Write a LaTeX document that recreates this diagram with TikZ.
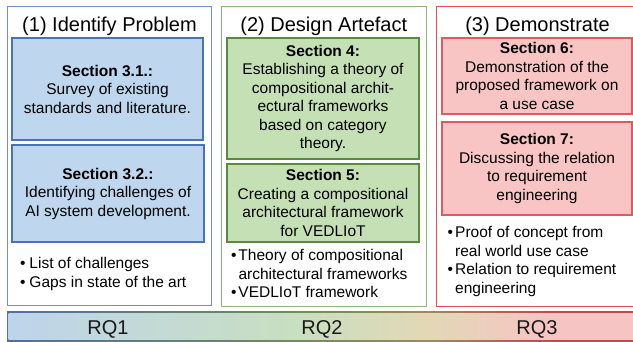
\documentclass[tikz,border=0pt]{standalone}
\usepackage{fontspec}
\setmainfont{Liberation Sans}
\definecolor{blueFill}{HTML}{BED6EE}
\definecolor{blueLine}{HTML}{4A72B8}
\definecolor{blueOuter}{HTML}{6F90CC}
\definecolor{greenFill}{HTML}{C6E0B5}
\definecolor{greenLine}{HTML}{5B8A3E}
\definecolor{greenOuter}{HTML}{8DB87A}
\definecolor{redFill}{HTML}{F8C4C4}
\definecolor{redLine}{HTML}{DF5A5A}
\definecolor{redOuter}{HTML}{E05050}
\definecolor{bfA}{HTML}{BED4EB}
\definecolor{bfB}{HTML}{C9DFC0}
\definecolor{bfC}{HTML}{E2D8B6}
\definecolor{bfD}{HTML}{F7C4C4}
\definecolor{blA}{HTML}{4A6FAE}
\definecolor{blB}{HTML}{6B9150}
\definecolor{blC}{HTML}{A08A50}
\definecolor{blD}{HTML}{C84848}
\pgfdeclarehorizontalshading{barfill}{100bp}{color(0bp)=(bfA); color(25bp)=(bfA); color(48bp)=(bfB); color(58bp)=(bfC); color(68bp)=(bfD); color(100bp)=(bfD)}
\pgfdeclarehorizontalshading{barline}{100bp}{color(0bp)=(blA); color(25bp)=(blA); color(48bp)=(blB); color(58bp)=(blC); color(68bp)=(blD); color(100bp)=(blD)}
\newcommand\bul[1]{\makebox[#1][l]{•}}
\tikzset{
  colbox/.style={draw, line width=1pt, fill=white, inner sep=0pt},
  secbox/.style={draw, line width=1.3pt, inner sep=0pt, align=center,
    font=\fontsize{15.5}{18.5}\selectfont},
  titletext/.style={font=\fontsize{20}{24}\selectfont, inner sep=0pt, anchor=base},
  bullettext/.style={font=\fontsize{15.5}{18.5}\selectfont, inner sep=0pt, align=left, anchor=north west},
  rqtext/.style={font=\fontsize{20}{24}\selectfont, inner sep=0pt, anchor=base, text=black!90}
}
\begin{document}
\begin{tikzpicture}[x=1pt,y=-1pt]
\useasboundingbox (0,0) rectangle (633,342);
% columns
\node[colbox, draw=blueOuter, minimum width=204pt, minimum height=299pt] (col1) at (109,156.5) {};
\node[colbox, draw=greenOuter, minimum width=205pt, minimum height=300pt] (col2) at (323.5,157) {};
\node[colbox, draw=redOuter, minimum width=203pt, minimum height=300pt] (col3) at (537.5,157) {};
% titles
\node[titletext] (t1) at (109.5,32) {(1) Identify Problem};
\node[titletext] (t2) at (323.8,32) {(2) Design Artefact};
\node[titletext] (t3) at (537.5,32) {(3) Demonstrate};
% section boxes
\node[secbox, draw=blueLine, fill=blueFill, minimum width=191pt, minimum height=102pt] (s31) at (107.5,89)
  {\textbf{Section 3.1.:}\\Survey of existing\\standards and literature.};
\node[secbox, draw=blueLine, fill=blueFill, minimum width=192pt, minimum height=97pt] (s32) at (108,193.5)
  {\textbf{Section 3.2.:}\\Identifying challenges of\\AI system development.};
\node[secbox, draw=greenLine, fill=greenFill, minimum width=192pt, minimum height=121pt] (s4) at (323,98.5)
  {\textbf{Section 4:}\\Establishing a theory of\\compositional archit-\\ectural frameworks\\based on category\\theory.};
\node[secbox, draw=greenLine, fill=greenFill, minimum width=192pt, minimum height=78pt] (s5) at (323,203)
  {\textbf{Section 5:}\\Creating a compositional\\architectural framework\\for VEDLIoT};
\node[secbox, draw=redLine, fill=redFill, minimum width=190pt, minimum height=76pt] (s6) at (537,76)
  {\textbf{Section 6:}\\Demonstration of the\\proposed framework on\\a use case};
\node[secbox, draw=redLine, fill=redFill, minimum width=190pt, minimum height=93pt] (s7) at (537,168.5)
  {\textbf{Section 7:}\\Discussing the relation\\to requirement\\engineering};
% bullet lists
\node[bullettext] (b1) at (20,257.5)
  {\bul{9.3pt}List of challenges\\\bul{9.3pt}Gaps in state of the art};
\node[bullettext] (b2) at (231,249.5)
  {\bul{7.3pt}Theory of compositional\\\hspace*{7.3pt}architectural frameworks\\\bul{7.3pt}VEDLIoT framework};
\node[bullettext] (b3) at (447.5,226.5)
  {\bul{7.5pt}Proof of concept from\\\hspace*{7.5pt}real world use case\\\bul{7.5pt}Relation to requirement\\\hspace*{7.5pt}engineering};
% RQ bar
\path[shading=barline] (7,312) rectangle (640,341.5);
\path[shading=barfill] (8.6,313.6) rectangle (640,339.9);
\node[rqtext] (rq1) at (108,335) {RQ1};
\node[rqtext] (rq2) at (322,335) {RQ2};
\node[rqtext] (rq3) at (537,335) {RQ3};
\end{tikzpicture}
\end{document}
